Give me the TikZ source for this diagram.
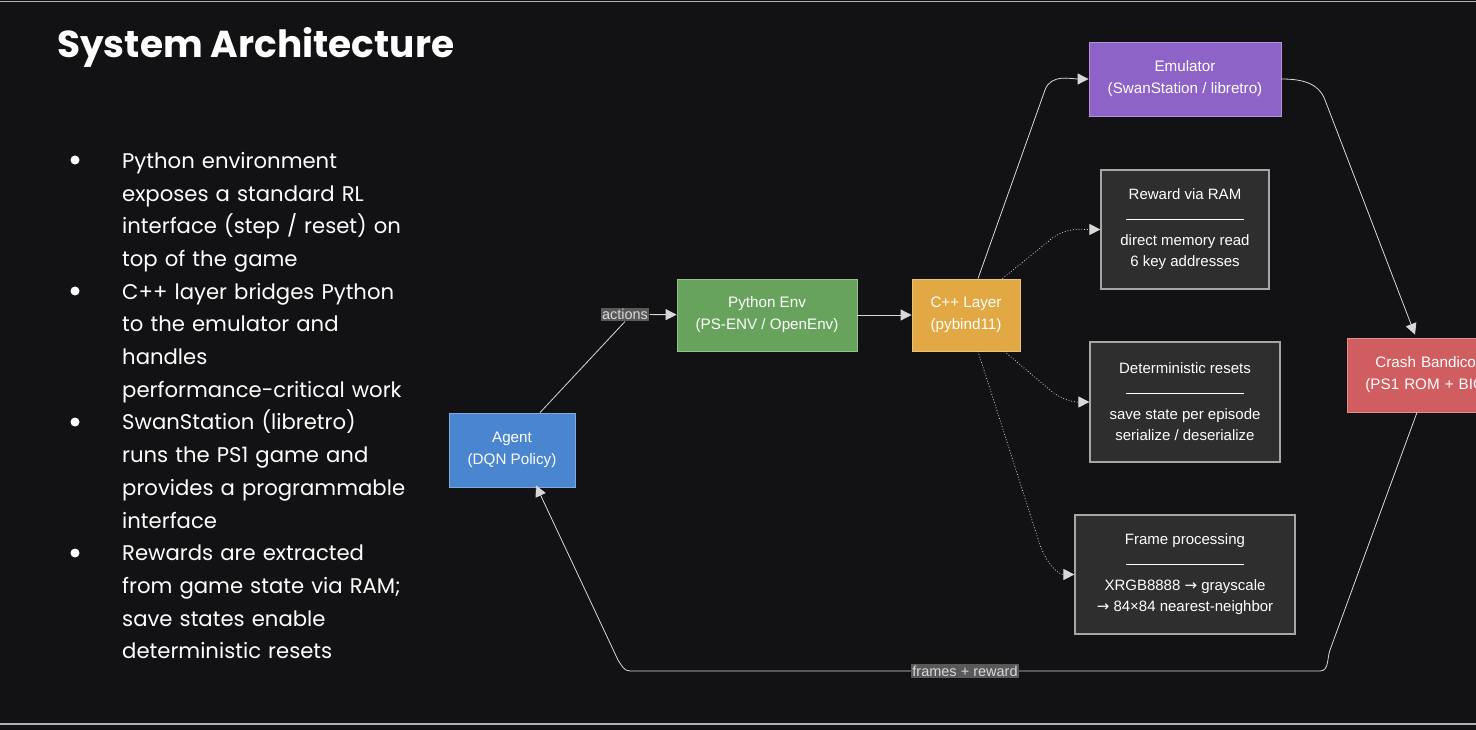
\documentclass[tikz,border=0pt]{standalone}
\usepackage{fontspec}
\setmainfont{Liberation Sans}
\newfontfamily\pop{Poppins}
\newfontfamily\djvarrow{DejaVu Sans}
\usetikzlibrary{arrows.meta,calc}
\definecolor{bg}{HTML}{121214}
\definecolor{ln}{HTML}{D8D8D8}
\tikzset{
 box/.style={draw=#1!70!white, line width=0.8pt, fill=#1, text=white, align=center, font=\fontsize{15.2}{22}\selectfont, inner sep=0pt},
 gbox/.style={draw=gray!70, line width=1.2pt, fill=black!82, text=white, align=center, font=\fontsize{15}{23}\selectfont, inner sep=0pt},
 con/.style={draw=ln, line width=0.8pt, -{Triangle[length=11pt,width=11pt,fill=ln]}},
 dcon/.style={con, dotted},
 lab/.style={fill=black!65, text=ln, font=\fontsize{14.5}{16}\selectfont, inner sep=1.5pt},
}
\definecolor{cpur}{HTML}{8E63C8}
\definecolor{cgrn}{HTML}{67A35D}
\definecolor{corg}{HTML}{E1A843}
\definecolor{cred}{HTML}{D05D5F}
\definecolor{cblu}{HTML}{4A85CF}
\begin{document}
\begin{tikzpicture}[x=1pt,y=-1pt]
\useasboundingbox (0,0) rectangle (1476,730);
\clip (0,0) rectangle (1476,730);
\fill[bg] (0,0) rectangle (1476,730);
\draw[gray!60, line width=1pt] (0,2) -- (1476,2);
\draw[gray!60, line width=1.5pt] (0,724) -- (1476,724);
\node[anchor=west, text=white, font=\pop\bfseries\fontsize{37.5}{40}\selectfont, inner sep=0pt] (title) at (57,47) {System Architecture};
\node[anchor=north west, text=white, font=\pop\fontsize{21.2}{32.7}\selectfont, align=left, text width=300pt, inner sep=0pt] (bul) at (122,152) {%
Python environment\\exposes a standard RL\\interface (step / reset) on\\top of the game\\
C++ layer bridges Python\\to the emulator and\\handles\\performance-critical work\\
SwanStation (libretro)\\runs the PS1 game and\\provides a programmable\\interface\\
Rewards are extracted\\from game state via RAM;\\save states enable\\deterministic resets};
\foreach \y in {160,291,422,553} \fill[white] (75,\y) circle (4.5pt);
% nodes
\node[box=cpur, minimum width=192pt, minimum height=74pt] (emu) at (1185,79) {Emulator\\(SwanStation / libretro)};
\node[gbox, minimum width=168pt, minimum height=119pt] (rew) at (1185,229.5) {Reward via RAM\\\rule[3pt]{118pt}{1pt}\\direct memory read\\[-2pt]6 key addresses};
\node[gbox, minimum width=190pt, minimum height=120pt] (det) at (1185,402) {Deterministic resets\\\rule[3pt]{118pt}{1pt}\\save state per episode\\[-2pt]serialize / deserialize};
\node[gbox, minimum width=220pt, minimum height=119pt] (frm) at (1185,574.5) {Frame processing\\\rule[3pt]{118pt}{1pt}\\XRGB8888 {\djvarrow→} grayscale\\[-2pt]{\djvarrow→} 84×84 nearest-neighbor};
\node[box=cred, minimum width=200pt, minimum height=74pt, anchor=west, text width=160pt, align=left] (crash) at (1347,375) {\hspace*{8pt}Crash Bandicoot\\\hspace*{-2pt}(PS1 ROM + BIOS)};
\node[box=cblu, minimum width=126pt, minimum height=74pt] (agent) at (512,450) {Agent\\(DQN Policy)};
\node[box=cgrn, minimum width=180pt, minimum height=72pt] (py) at (767,315) {Python Env\\(PS-ENV / OpenEnv)};
\node[box=corg, minimum width=108pt, minimum height=72pt] (cpp) at (966,315) {C++ Layer\\(pybind11)};
\node[lab] (act) at (625,314.5) {actions};
\coordinate (fl) at (630,671);
\coordinate (frr) at (1320,671);
% connectors
\draw[draw=ln, line width=0.8pt] ($(agent.north)+(28,0)$) -- (act.south);
\draw[con] (act) -- (py);
\draw[con] (py) -- (cpp);
\draw[con] ($(cpp.north)+(12,0)$) -- (1045,90) to[out=70,in=180] (emu.west);
\draw[con] (emu.east) to[out=0,in=110] (1325,100) -- ($(crash.north west)+(68,-3)$);
\draw[con] ($(crash.south west)+(70,0)$) -- (1330,650) to[out=-110,in=0] (frr) -- (fl) to[out=180,in=-55] (618,660) -- ($(agent.south)+(24,-2)$);
\node[lab] (fr) at (965,671) {frames + reward};
\draw[dcon] ($(cpp.north east)+(-18,0)$) -- (1050,240) to[out=40,in=180] (rew.west);
\draw[dcon] ($(cpp.south east)+(-16,0)$) -- (1050,390) to[out=-40,in=180] (det.west);
\draw[dcon] ($(cpp.south)+(12,0)$) -- (1040,545) to[out=-70,in=180] (frm.west);
\end{tikzpicture}
\end{document}
